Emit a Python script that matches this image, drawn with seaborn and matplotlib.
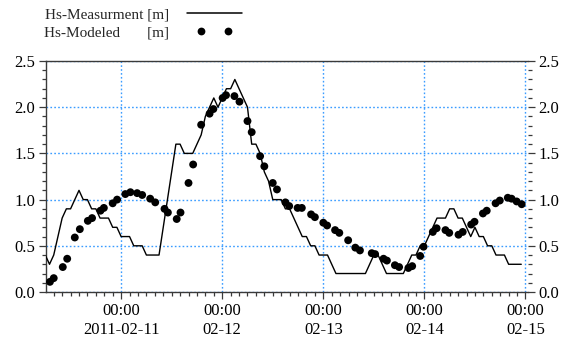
import numpy as np
import pandas as pd
import matplotlib
matplotlib.use("Agg")
import matplotlib.pyplot as plt
import matplotlib.dates as mdates
from matplotlib.ticker import MultipleLocator, FuncFormatter
from matplotlib.legend_handler import HandlerLine2D
from matplotlib.lines import Line2D
import seaborn as sns

sns.set_theme(style="white")
plt.rcParams["font.family"] = ["Liberation Serif", "DejaVu Serif"]

# Measured significant wave height, hourly from 2011-02-10 06:00 [m]
meas_start = "2011-02-10 06:00"
meas_hs = [
    0.4, 0.3, 0.4, 0.6, 0.8, 0.9, 0.9, 1.0, 1.1, 1.0, 1.0, 0.9, 0.9, 0.8, 0.8, 0.8, 0.7, 0.7,
    0.6, 0.6, 0.6, 0.5, 0.5, 0.5, 0.4, 0.4, 0.4, 0.4, 0.7, 1.0, 1.3, 1.6, 1.6, 1.5, 1.5, 1.5,
    1.6, 1.7, 1.9, 2.0, 2.1, 2.0,
    2.1, 2.2, 2.2, 2.3, 2.2, 2.1, 2.0, 1.6, 1.6, 1.5, 1.3, 1.2, 1.0, 1.0, 1.0, 0.9, 0.9, 0.8,
    0.7, 0.6, 0.6, 0.5, 0.5, 0.4,
    0.4, 0.4, 0.3, 0.2, 0.2, 0.2, 0.2, 0.2, 0.2, 0.2, 0.2, 0.3, 0.4, 0.4, 0.3, 0.2, 0.2, 0.2,
    0.2, 0.2, 0.3, 0.4, 0.4, 0.5,
    0.5, 0.6, 0.7, 0.8, 0.8, 0.8, 0.9, 0.9, 0.8, 0.8, 0.7, 0.6, 0.7, 0.6, 0.6, 0.5, 0.5, 0.4,
    0.4, 0.4, 0.3, 0.3, 0.3, 0.3,
]

# Modelled significant wave height; times in hours after 2011-02-11 00:00 [m]
mod_origin = "2011-02-11 00:00"
mod_hours = [
    -16.9, -16.0, -13.85, -12.8, -11.0, -9.8, -7.9, -6.9, -4.9, -4.1,
    -2.0, -0.95, 1.0, 2.2, 3.8, 5.0, 6.9, 8.1, 10.3, 11.1,
    13.2, 14.1, 16.0, 17.1, 19.0, 21.0, 21.9, 24.1, 24.9, 26.9,
    28.1, 30.0, 31.0, 33.0, 34.0, 36.0, 37.0, 39.0, 39.9, 41.9,
    42.9, 45.1, 46.0, 48.0, 48.9, 50.8, 51.8, 53.9, 55.6, 56.7,
    59.5, 60.3, 62.3, 63.1, 65.0, 66.0, 68.2, 69.1, 71.0, 71.8,
    74.0, 74.9, 77.0, 77.9, 80.1, 81.1, 83.1, 83.9, 85.9, 86.8,
    88.9, 89.9, 91.8, 92.7, 93.9, 95.1,
]
mod_hs = [
    0.11, 0.15, 0.27, 0.36, 0.59, 0.68, 0.77, 0.80, 0.88, 0.91,
    0.96, 1.00, 1.06, 1.08, 1.07, 1.05, 1.01, 0.97, 0.90, 0.86,
    0.79, 0.86, 1.18, 1.38, 1.81, 1.93, 1.98, 2.10, 2.13, 2.12,
    2.06, 1.85, 1.73, 1.47, 1.36, 1.18, 1.11, 0.97, 0.93, 0.91,
    0.91, 0.84, 0.81, 0.75, 0.72, 0.67, 0.64, 0.56, 0.48, 0.45,
    0.42, 0.41, 0.36, 0.34, 0.29, 0.27, 0.26, 0.28, 0.39, 0.49,
    0.65, 0.69, 0.67, 0.64, 0.62, 0.65, 0.73, 0.76, 0.85, 0.88,
    0.96, 0.99, 1.02, 1.01, 0.98, 0.95,
]

label_meas = "Hs-Measurment [m]"
label_mod = "Hs-Modeled       [m]"

meas = pd.DataFrame({
    "time": pd.Timestamp(meas_start) + pd.to_timedelta(np.arange(len(meas_hs)), unit="h"),
    "hs": meas_hs,
})
mod = pd.DataFrame({
    "time": pd.Timestamp(mod_origin) + pd.to_timedelta(mod_hours, unit="h"),
    "hs": mod_hs,
})

fig = plt.figure(figsize=(5.61, 3.41), dpi=100)
ax = fig.add_axes([0.0815, 0.1437, 0.8597, 0.6774])

grid_blue = "#3a9cff"
spine_col = "#3a3a3a"
fs_tick = 12
fs_leg = 11

sns.lineplot(data=meas, x="time", y="hs", ax=ax, color="black", lw=1.0,
             legend=False, zorder=3)
sns.scatterplot(data=mod, x="time", y="hs", ax=ax, color="black", s=32,
                edgecolor="none", legend=False, zorder=4)

t0 = pd.Timestamp(mod_origin)
ax.set_xlim(t0 + pd.Timedelta(hours=-17.9), t0 + pd.Timedelta(hours=96.6))
ax.set_ylim(0, 2.5)
ax.set_xlabel("")
ax.set_ylabel("")

ax.yaxis.set_major_locator(MultipleLocator(0.5))
ax.yaxis.set_minor_locator(MultipleLocator(0.1))
ax.yaxis.set_major_formatter(FuncFormatter(lambda v, p: f"{v:.1f}"))

ax.xaxis.set_major_locator(mdates.DayLocator())
ax.xaxis.set_minor_locator(mdates.HourLocator(byhour=range(0, 24, 2)))


def day_label(v, pos):
    d = mdates.num2date(v)
    if d.day == 11:
        return "00:00\n" + d.strftime("%Y-%m-%d")
    return "00:00\n" + d.strftime("%m-%d")


ax.xaxis.set_major_formatter(FuncFormatter(day_label))

ax.grid(True, which="major", color=grid_blue, ls=(0, (1.2, 1.6)), lw=1.0)
ax.grid(False, which="minor")
ax.set_axisbelow(True)

for side in ["left", "bottom", "top"]:
    ax.spines[side].set_visible(True)
    ax.spines[side].set_color(spine_col)
    ax.spines[side].set_linewidth(1.0)
ax.spines["right"].set_visible(False)

ax.tick_params(axis="both", which="both", direction="out", color=spine_col,
               width=0.9, labelsize=fs_tick, labelcolor="black")
ax.tick_params(axis="both", which="major", length=5, pad=3)
ax.tick_params(axis="both", which="minor", length=3)
ax.tick_params(axis="y", which="both", left=True, right=True, labelright=True)
ax.tick_params(axis="y", which="major", pad=2.5)
ax.tick_params(axis="x", which="both", bottom=True, top=False)

for lbl in ax.get_xticklabels():
    lbl.set_linespacing(1.22)

h_line = Line2D([], [], color="black", lw=1.1)
h_dots = Line2D([], [], ls="none", marker="o", ms=5.6, color="black", mec="none")
fig.legend([h_line, h_dots], [label_meas, label_mod],
           loc="upper left", bbox_to_anchor=(0.079, 0.978), frameon=False,
           markerfirst=False, handlelength=3.6, handletextpad=1.15,
           labelspacing=0.3, borderpad=0, borderaxespad=0, fontsize=fs_leg,
           handler_map={h_dots: HandlerLine2D(numpoints=2, marker_pad=0.92)})

fig.savefig("out.png", dpi=100)
